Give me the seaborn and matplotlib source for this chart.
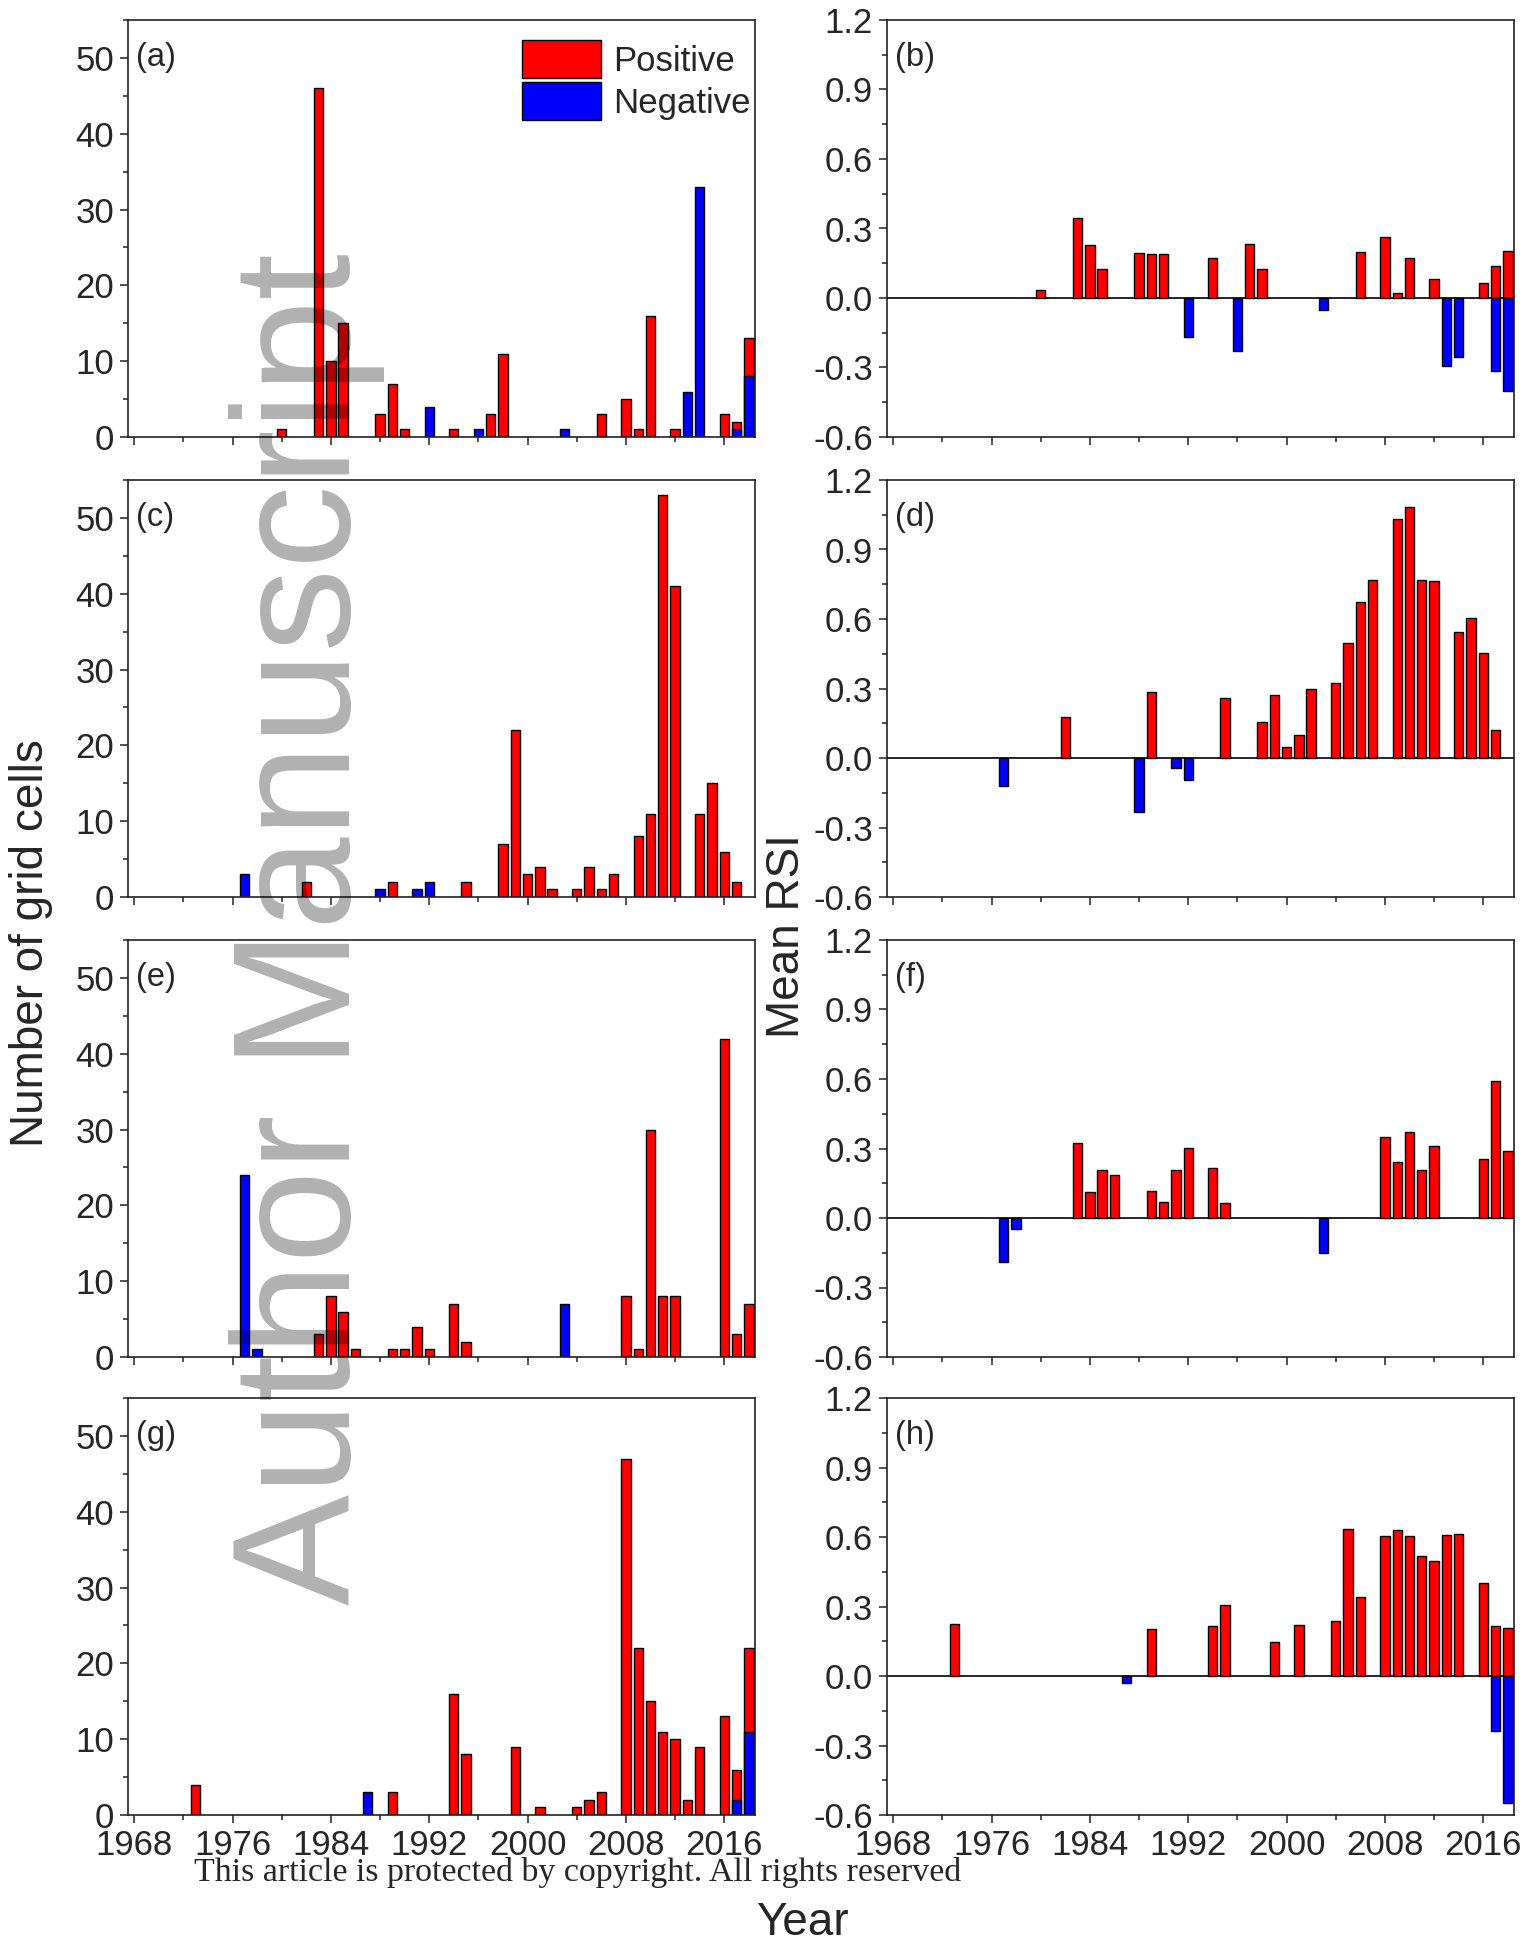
import matplotlib
matplotlib.use("Agg")
import matplotlib.pyplot as plt
import seaborn as sns
from matplotlib.patches import Patch
from matplotlib.ticker import MultipleLocator, FormatStrFormatter

# ---------------- data ----------------
# (a) number of grid cells
a_pos_years = [1980, 1983, 1984, 1985, 1988, 1989, 1990, 1994, 1997, 1998, 2006, 2008, 2009, 2010, 2012, 2016, 2017, 2018]
a_pos_vals = [1, 46, 10, 15, 3, 7, 1, 1, 3, 11, 3, 5, 1, 16, 1, 3, 2, 13]
a_neg_years = [1992, 1996, 2003, 2013, 2014, 2017, 2018]
a_neg_vals = [4, 1, 1, 6, 33, 1, 8]
# (b) mean RSI
b_pos_years = a_pos_years
b_pos_vals = [0.035, 0.344, 0.229, 0.125, 0.196, 0.190, 0.188, 0.173, 0.233, 0.125, 0.198, 0.262, 0.020, 0.172, 0.083, 0.064, 0.140, 0.205]
b_neg_years = a_neg_years
b_neg_vals = [-0.168, -0.230, -0.050, -0.295, -0.253, -0.314, -0.402]

# (c) number of grid cells
c_pos_years = [1982, 1989, 1995, 1998, 1999, 2000, 2001, 2002, 2004, 2005, 2006, 2007, 2009, 2010, 2011, 2012, 2014, 2015, 2016, 2017]
c_pos_vals = [2, 2, 2, 7, 22, 3, 4, 1, 1, 4, 1, 3, 8, 11, 53, 41, 11, 15, 6, 2]
c_neg_years = [1977, 1988, 1991, 1992]
c_neg_vals = [3, 1, 1, 2]
# (d) mean RSI
d_pos_years = c_pos_years
d_pos_vals = [0.177, 0.287, 0.258, 0.156, 0.271, 0.046, 0.098, 0.297, 0.323, 0.498, 0.673, 0.770, 1.033, 1.084, 0.770, 0.766, 0.546, 0.605, 0.452, 0.120]
d_neg_years = c_neg_years
d_neg_vals = [-0.121, -0.233, -0.043, -0.094]

# (e) number of grid cells
e_pos_years = [1983, 1984, 1985, 1986, 1989, 1990, 1991, 1992, 1994, 1995, 2008, 2009, 2010, 2011, 2012, 2016, 2017, 2018]
e_pos_vals = [3, 8, 6, 1, 1, 1, 4, 1, 7, 2, 8, 1, 30, 8, 8, 42, 3, 7]
e_neg_years = [1977, 1978, 2003]
e_neg_vals = [24, 1, 7]
# (f) mean RSI
f_pos_years = e_pos_years
f_pos_vals = [0.323, 0.112, 0.207, 0.184, 0.115, 0.071, 0.207, 0.301, 0.217, 0.065, 0.350, 0.243, 0.373, 0.209, 0.311, 0.253, 0.590, 0.289]
f_neg_years = e_neg_years
f_neg_vals = [-0.189, -0.048, -0.150]

# (g) number of grid cells
g_pos_years = [1973, 1989, 1994, 1995, 1999, 2001, 2004, 2005, 2006, 2008, 2009, 2010, 2011, 2012, 2013, 2014, 2016, 2017, 2018]
g_pos_vals = [4, 3, 16, 8, 9, 1, 1, 2, 3, 47, 22, 15, 11, 10, 2, 9, 13, 6, 22]
g_neg_years = [1987, 2017, 2018]
g_neg_vals = [3, 2, 11]
# (h) mean RSI
h_pos_years = g_pos_years
h_pos_vals = [0.224, 0.203, 0.216, 0.306, 0.148, 0.220, 0.237, 0.634, 0.342, 0.603, 0.631, 0.606, 0.519, 0.496, 0.608, 0.613, 0.402, 0.217, 0.208]
h_neg_years = g_neg_years
h_neg_vals = [-0.032, -0.236, -0.549]

x_ticks = [1968, 1976, 1984, 1992, 2000, 2008, 2016]
count_ticks = [0, 10, 20, 30, 40, 50]
rsi_ticks = [-0.6, -0.3, 0.0, 0.3, 0.6, 0.9, 1.2]
panel_labels = ["(a)", "(b)", "(c)", "(d)", "(e)", "(f)", "(g)", "(h)"]
legend_labels = ["Positive", "Negative"]

RED = "#ff0000"
BLUE = "#0000ff"

# ---------------- style ----------------
sns.set_theme(style="ticks")
plt.rcParams['font.family'] = ['Liberation Sans', 'DejaVu Sans']
plt.rcParams['axes.unicode_minus'] = False

W, H = 1524, 1942
fig = plt.figure(figsize=(W / 100, H / 100), dpi=100)


def rect(l, t, r, b):
    return [l / W, 1 - b / H, (r - l) / W, (b - t) / H]


rows = [(20, 437), (480, 897), (940, 1357), (1398, 1815)]
left_col = (128, 755)
right_col = (887, 1514)


def style_axis(ax, bottom_row, lab):
    ax.set_xlim(1967.5, 2018.5)
    ax.xaxis.set_minor_locator(MultipleLocator(4))
    ax.set_xticks(x_ticks)
    ax.tick_params(which='major', direction='out', length=6, width=1.1,
                   labelsize=25, top=False, right=False, color='#222222', pad=4)
    ax.tick_params(which='minor', direction='out', length=3.5, width=1.1,
                   top=False, right=False, color='#222222')
    if not bottom_row:
        ax.tick_params(axis='x', labelbottom=False)
    for s in ax.spines.values():
        s.set_color('#222222')
        s.set_linewidth(1.2)
    ax.set_xlabel('')
    ax.set_ylabel('')
    ax.text(0.012, 0.91, lab, transform=ax.transAxes, fontsize=23.5,
            ha='left', va='center')


def bars(ax, yrs, vals, color):
    sns.barplot(x=yrs, y=vals, native_scale=True, color=color, saturation=1,
                edgecolor='black', linewidth=1, width=0.76, errorbar=None, ax=ax)


left_data = [(a_pos_years, a_pos_vals, a_neg_years, a_neg_vals),
             (c_pos_years, c_pos_vals, c_neg_years, c_neg_vals),
             (e_pos_years, e_pos_vals, e_neg_years, e_neg_vals),
             (g_pos_years, g_pos_vals, g_neg_years, g_neg_vals)]
right_data = [(b_pos_years, b_pos_vals, b_neg_years, b_neg_vals),
              (d_pos_years, d_pos_vals, d_neg_years, d_neg_vals),
              (f_pos_years, f_pos_vals, f_neg_years, f_neg_vals),
              (h_pos_years, h_pos_vals, h_neg_years, h_neg_vals)]

for i, (t, b) in enumerate(rows):
    bottom_row = (i == len(rows) - 1)
    # left: counts
    axl = fig.add_axes(rect(left_col[0], t, left_col[1], b))
    py, pv, ny, nv = left_data[i]
    bars(axl, py, pv, RED)
    bars(axl, ny, nv, BLUE)
    axl.set_ylim(0, 55)
    axl.set_yticks(count_ticks)
    axl.yaxis.set_minor_locator(MultipleLocator(5))
    style_axis(axl, bottom_row, panel_labels[2 * i])
    if i == 0:
        handles = [Patch(facecolor=RED, edgecolor='black', linewidth=1, label=legend_labels[0]),
                   Patch(facecolor=BLUE, edgecolor='black', linewidth=1, label=legend_labels[1])]
        axl.legend(handles=handles, loc='upper left', bbox_to_anchor=(0.629, 0.952),
                   frameon=False, fontsize=25, handlelength=2.25, handleheight=1.3,
                   handletextpad=0.35, labelspacing=0.12, borderpad=0, borderaxespad=0)
    # right: RSI
    axr = fig.add_axes(rect(right_col[0], t, right_col[1], b))
    py, pv, ny, nv = right_data[i]
    bars(axr, py, pv, RED)
    bars(axr, ny, nv, BLUE)
    axr.axhline(0, color='black', linewidth=1.2, zorder=0.5)
    axr.set_ylim(-0.6, 1.2)
    axr.set_yticks(rsi_ticks)
    axr.yaxis.set_major_formatter(FormatStrFormatter('%.1f'))
    axr.yaxis.set_minor_locator(MultipleLocator(0.15))
    style_axis(axr, bottom_row, panel_labels[2 * i + 1])

# axis titles
fig.text(31 / W, 1 - 943 / H, "Number of grid cells", rotation=90, fontsize=33,
         ha='center', va='center')
fig.text(787 / W, 1 - 936 / H, "Mean RSI", rotation=90, fontsize=33,
         ha='center', va='center')
fig.text(802 / W, 1 - 1935 / H, "Year", fontsize=33, ha='center', va='baseline')

# copyright line
fig.text(578 / W, 1 - 1881 / H, "This article is protected by copyright. All rights reserved",
         fontsize=24.4, family=['Liberation Serif', 'DejaVu Serif'], ha='center', va='baseline')

# watermark (multiplied grey)
fig.text(350 / W, 1 - 929 / H, "Author Manuscript", rotation=90, rotation_mode='anchor',
         fontsize=120, color='black', alpha=0.31, ha='center', va='baseline', zorder=10)

fig.savefig("out.png", dpi=100)
